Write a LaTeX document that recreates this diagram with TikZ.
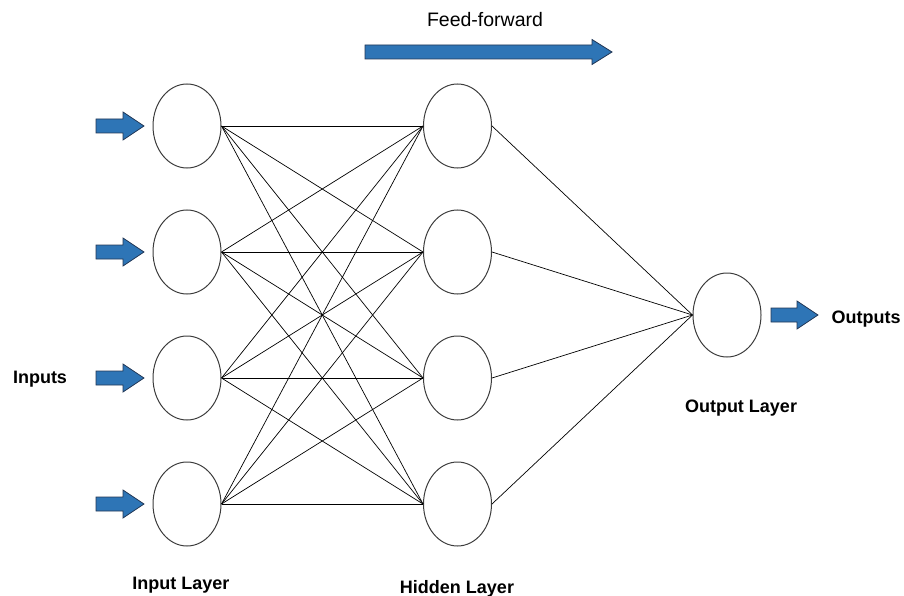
\documentclass[tikz,border=0pt]{standalone}
\usepackage{fontspec}
\setmainfont{Liberation Sans}
\usetikzlibrary{shapes.geometric}
\definecolor{arrowblue}{RGB}{46,117,182}
\definecolor{arrowedge}{RGB}{35,55,85}
\definecolor{ringgray}{RGB}{60,60,60}
\tikzset{
  neuron/.style={ellipse, draw=ringgray, line width=1pt, minimum width=68pt, minimum height=84pt, inner sep=0pt},
  synapse/.style={draw=black, line width=0.7pt},
  layerlabel/.style={font=\bfseries\fontsize{18}{20}\selectfont, inner sep=0pt, anchor=base},
  titlelabel/.style={font=\fontsize{19.5}{22}\selectfont, inner sep=0pt, anchor=base},
  pics/blockarrow/.style n args={3}{code={
    % #1 total length, #2 half height of head, #3 head length
    \draw[fill=arrowblue, draw=arrowedge, line width=0.8pt, line join=miter]
      (0,-7) -- ({#1-#3},-7) -- ({#1-#3},-#2) -- (#1,0) -- ({#1-#3},#2) -- ({#1-#3},7) -- (0,7) -- cycle;
  }}
}
\begin{document}
\begin{tikzpicture}[x=1pt,y=-1pt]
\useasboundingbox (0,0) rectangle (904,596);

% layers of neurons
\foreach \k/\y in {1/126,2/252,3/378,4/504}{
  \node[neuron] (i\k) at (187,\y) {};
  \node[neuron] (h\k) at (457.5,\y) {};
}
\node[neuron] (o1) at (727,315) {};

% fully connected weights
\foreach \a in {1,...,4}{
  \foreach \b in {1,...,4}{
    \draw[synapse] (i\a.east) -- (h\b.west);
  }
  \draw[synapse] (h\a.east) -- (o1.west);
}

% input and output arrows
\foreach \y in {126,252,378,504}{
  \pic at (96,\y) {blockarrow={48}{14}{21}};
}
\pic at (771,315) {blockarrow={47}{14}{21}};

% direction of propagation
\pic at (365,52) {blockarrow={247}{12.5}{20}};
\node[titlelabel] (ff) at (485,27) {Feed-forward};

% labels (placed on their baselines)
\node[layerlabel] (inl) at (40,383) {Inputs};
\node[layerlabel] (outl) at (866,323) {Outputs};
\node[layerlabel] (ilay) at (181,589) {Input Layer};
\node[layerlabel] (hlay) at (457,593) {Hidden Layer};
\node[layerlabel] (olay) at (741,412) {Output Layer};
\end{tikzpicture}
\end{document}
